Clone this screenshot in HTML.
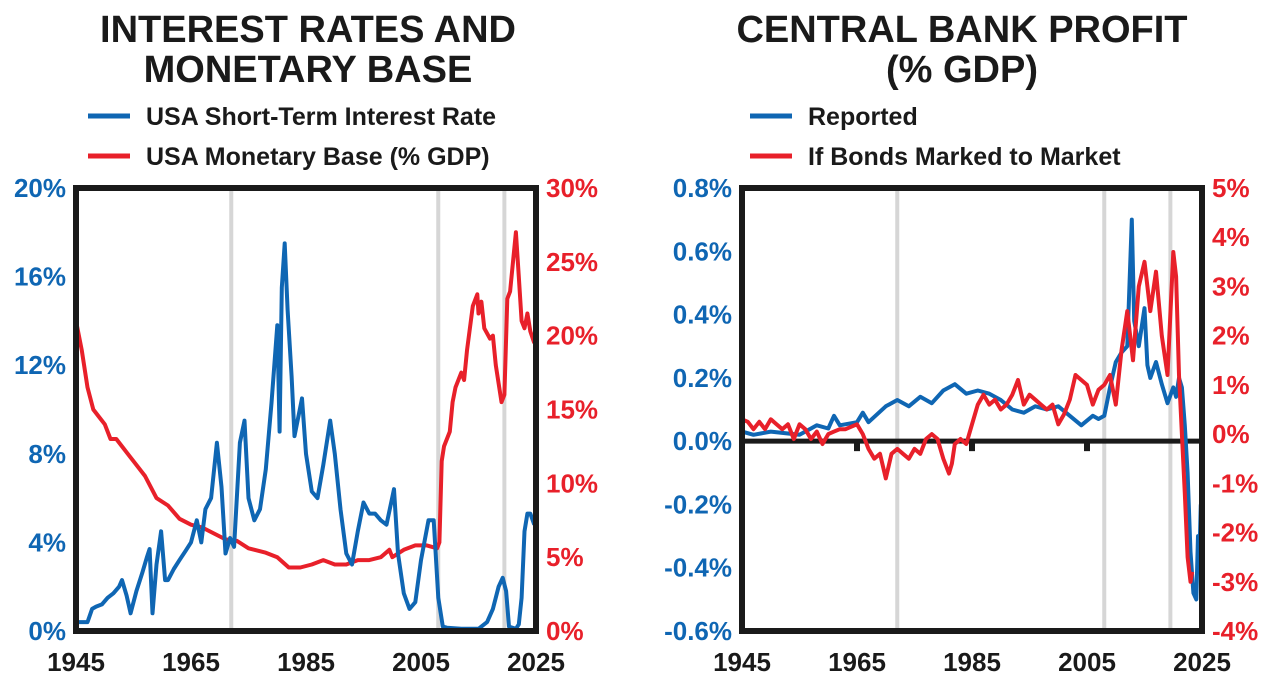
<!DOCTYPE html>
<html><head><meta charset="utf-8"><style>
body{margin:0;background:#fff;}
svg{display:block;font-family:"Liberation Sans","DejaVu Sans",sans-serif;font-weight:bold;}
</style></head><body>
<svg id="c" width="1275" height="698"></svg>
<script>
const years = [1945, 1965, 1985, 2005, 2025];
const recessionYears = [1972, 2008, 2019.5];
// Left chart: short-term interest rate (year, %)
const rateYears = [1945,1947,1947.8,1948.5,1949.5,1950.5,1951.5,1952.5,1953,1953.8,1954.5,1955.5,1956.5,1957.3,1957.8,1958.3,1959,1959.8,1960.5,1961,1962,1963,1964,1965,1966,1966.8,1967.5,1968.5,1969.5,1970.3,1971,1971.8,1972.5,1973.5,1974.3,1975,1976,1977,1978,1979,1980,1980.4,1980.8,1981.3,1981.8,1982.5,1983,1984.3,1985,1986,1987,1988,1989.2,1990,1991,1992,1993,1994,1995,1996,1997,1998,1999,2000.3,2001,2002,2003,2004,2005,2006.3,2007.2,2008,2008.8,2009.5,2012,2015,2016.5,2017.5,2018.5,2019.2,2019.8,2020.3,2021.5,2022,2022.5,2023,2023.5,2024,2024.7];
const rateValues = [0.4,0.4,1.0,1.1,1.2,1.5,1.7,2.0,2.3,1.6,0.8,1.8,2.6,3.3,3.7,0.8,3.0,4.5,2.3,2.3,2.8,3.2,3.6,4.0,5.0,4.0,5.5,6.0,8.5,6.5,3.5,4.2,3.8,8.5,9.5,6.0,5.0,5.5,7.3,10.3,13.8,9.0,15.5,17.5,14.5,11.5,8.8,10.5,8.0,6.3,6.0,7.5,9.5,8.0,5.5,3.5,3.0,4.5,5.8,5.3,5.3,5.0,4.8,6.4,3.5,1.7,1.0,1.3,3.2,5.0,5.0,1.5,0.2,0.15,0.1,0.1,0.4,1.0,2.0,2.4,1.8,0.2,0.1,0.3,1.5,4.5,5.3,5.3,4.8];
// Left chart: monetary base (% GDP)
const baseYears = [1945,1946,1947,1948,1949,1950,1951,1952,1953,1955,1957,1959,1961,1963,1965,1967,1969,1971,1973,1975,1978,1980,1982,1984,1986,1988,1990,1992,1994,1996,1998,1999.5,2000,2002,2004,2006,2007.8,2008.2,2008.6,2009,2010,2010.5,2011,2012,2012.5,2013,2014,2014.8,2015,2015.5,2016,2017,2017.5,2018,2019,2019.5,2020,2020.5,2021,2021.5,2022,2022.5,2023,2023.5,2024,2024.7];
const baseValues = [21,19,16.5,15,14.5,14,13,13,12.5,11.5,10.5,9,8.5,7.6,7.2,7.0,6.6,6.2,6.1,5.6,5.3,5.0,4.3,4.3,4.5,4.8,4.5,4.5,4.8,4.8,5.0,5.5,5.0,5.5,5.8,5.8,5.6,6.0,11.5,12.5,13.5,15.5,16.5,17.5,17,19,22,22.8,21.5,22.3,20.5,19.8,20,18,15.5,16,22.5,23,25,27,24,21,20.5,21.5,20.3,19.5];
// Right chart: reported profit (% GDP)
const repYears = [1945,1947,1950,1955,1957,1958,1960,1961,1962,1965,1966,1967,1970,1972,1974,1976,1978,1980,1982,1984,1986,1988,1990,1992,1994,1996,1998,2000,2002,2004,2006,2007,2008,2009,2010,2011,2012,2012.8,2013.2,2014,2015,2015.5,2016,2017,2018,2019,2020,2020.5,2021,2021.5,2022,2022.5,2023,2023.5,2024,2024.3,2024.5,2024.8];
const repValues = [0.03,0.02,0.03,0.02,0.04,0.05,0.04,0.08,0.05,0.06,0.09,0.06,0.11,0.13,0.11,0.14,0.12,0.16,0.18,0.15,0.16,0.15,0.13,0.10,0.09,0.11,0.10,0.11,0.08,0.05,0.08,0.07,0.08,0.17,0.25,0.28,0.30,0.70,0.38,0.30,0.42,0.24,0.20,0.25,0.18,0.12,0.17,0.14,0.20,0.17,0.05,-0.10,-0.35,-0.48,-0.50,-0.30,-0.40,-0.20];
// Right chart: profit if bonds marked to market (% GDP)
const mtmYears = [1945,1946,1947,1948,1949,1950,1951,1952,1953,1954,1955,1956,1957,1958,1959,1960,1961,1962,1963,1964,1965,1966,1967,1968,1969,1970,1971,1972,1973,1974,1975,1976,1977,1978,1979,1980,1981,1981.5,1982,1983,1984,1985,1986,1987,1988,1989,1990,1991,1992,1993,1994,1995,1996,1997,1998,1999,2000,2001,2002,2003,2004,2005,2006,2007,2008,2009,2010,2011,2012,2013,2014,2015,2016,2017,2018,2019,2020,2020.5,2021,2022,2022.5,2023,2023.3];
const mtmValues = [0.3,0.25,0.1,0.25,0.1,0.3,0.2,0.1,0.2,-0.1,0.2,0.1,-0.1,0.05,-0.2,0.0,0.05,0.1,0.1,0.15,0.2,0.0,-0.3,-0.5,-0.4,-0.9,-0.4,-0.3,-0.4,-0.5,-0.3,-0.4,-0.1,0.0,-0.1,-0.5,-0.8,-0.6,-0.2,-0.1,-0.2,0.2,0.6,0.8,0.6,0.7,0.5,0.6,0.8,1.1,0.6,0.8,0.7,0.6,0.5,0.6,0.2,0.4,0.7,1.2,1.1,1.0,0.6,0.9,1.0,1.2,0.6,1.7,2.5,1.5,3.0,3.5,2.5,3.3,2.0,1.2,3.7,3.2,1.2,-1.2,-2.5,-3.0,-2.8];
const leftTicksL = ["0%","4%","8%","12%","16%","20%"];
const leftTicksR = ["0%","5%","10%","15%","20%","25%","30%"];
const rightTicksL = ["-0.6%","-0.4%","-0.2%","0.0%","0.2%","0.4%","0.6%","0.8%"];
const rightTicksR = ["-4%","-3%","-2%","-1%","0%","1%","2%","3%","4%","5%"];

const NS="http://www.w3.org/2000/svg";
const svg=document.getElementById('c');
const BLUE="#0f66b3", RED="#e8202a";
function mk(t,a,parent){const e=document.createElementNS(NS,t);for(const k in a)e.setAttribute(k,a[k]);(parent||svg).appendChild(e);return e;}
function txt(x,y,s,size,fill,anchor){const e=mk('text',{x:x,y:y,'font-size':size,fill:fill,'text-anchor':anchor||'middle'});e.textContent=s;return e;}

function chart(cfg){
  const g=mk('g',{});
  
  
  const x0=cfg.x0,x1=cfg.x1,y0=188,y1=631;
  const sx=v=>x0+(v-1945)/80*(x1-x0);
  const syL=v=>y1-(v-cfg.lmin)/(cfg.lmax-cfg.lmin)*(y1-y0);
  const syR=v=>y1-(v-cfg.rmin)/(cfg.rmax-cfg.rmin)*(y1-y0);
  recessionYears.forEach(r=>{const l=mk('line',{x1:sx(r),x2:sx(r),y1:y0,y2:y1,stroke:'#d6d6d6','stroke-width':4},g);
    
    });
  if(cfg.zero){const zy=syL(0);
    const z=mk('line',{x1:x0,x2:x1,y1:zy,y2:zy,stroke:'#1a1a1a','stroke-width':5},g);
    
    
    years.forEach(yv=>{const t=mk('rect',{x:sx(yv)-3,y:zy,width:6,height:10,fill:'#1a1a1a'},g);
      
      });}
  cfg.series.forEach(s=>{
    const sy=s.axis==='L'?syL:syR;
    const d=s.xs.map((xv,i)=>(i?'L':'M')+sx(xv).toFixed(1)+','+sy(s.ys[i]).toFixed(1)).join(' ');
    const p=mk('path',{d:d,fill:'none',stroke:s.color,'stroke-width':4,'stroke-linejoin':'round'},g);
    
    
  });
  const b=mk('rect',{x:x0,y:y0,width:x1-x0,height:y1-y0,fill:'none',stroke:'#1a1a1a','stroke-width':6},g);
  
  
  cfg.lt.forEach((s,i)=>{const v=cfg.lmin+i*(cfg.lmax-cfg.lmin)/(cfg.lt.length-1);
    const t=txt(x0-10,syL(v)+9,s,26,BLUE,'end');
    
    });
  cfg.rt.forEach((s,i)=>{const v=cfg.rmin+i*(cfg.rmax-cfg.rmin)/(cfg.rt.length-1);
    const t=txt(x1+10,syR(v)+9,s,26,RED,'start');
    
    });
  years.forEach(yv=>{const t=txt(sx(yv),671,String(yv),26,'#1a1a1a');
    
    });
  cfg.title.forEach((s,i)=>{const t=txt(cfg.tc,42+i*40,s,38,'#1a1a1a');
    
    });
  cfg.legend.forEach((L,i)=>{const y=116+i*40;
    const l=mk('line',{x1:cfg.lx,x2:cfg.lx+42,y1:y,y2:y,stroke:L[1],'stroke-width':5});
    
    
    const t=txt(cfg.lx+58,y+9,L[0],25,'#1a1a1a','start');
    
    });
}
chart({name:'interest-rate-chart',x0:76,x1:536,lmin:0,lmax:20,rmin:0,rmax:30,lt:leftTicksL,rt:leftTicksR,
  title:["INTEREST RATES AND","MONETARY BASE"],tc:308,lx:88,
  legend:[["USA Short-Term Interest Rate",BLUE],["USA Monetary Base (% GDP)",RED]],
  series:[{name:'monetary-base-line',xs:baseYears,ys:baseValues,axis:'R',color:RED},
          {name:'interest-rate-line',xs:rateYears,ys:rateValues,axis:'L',color:BLUE}]});
chart({name:'central-bank-profit-chart',x0:742,x1:1202,lmin:-0.6,lmax:0.8,rmin:-4,rmax:5,lt:rightTicksL,rt:rightTicksR,zero:true,
  title:["CENTRAL BANK PROFIT","(% GDP)"],tc:962,lx:750,
  legend:[["Reported",BLUE],["If Bonds Marked to Market",RED]],
  series:[{name:'reported-profit-line',xs:repYears,ys:repValues,axis:'L',color:BLUE},
          {name:'marked-to-market-profit-line',xs:mtmYears,ys:mtmValues,axis:'R',color:RED}]});
</script>
</body></html>
